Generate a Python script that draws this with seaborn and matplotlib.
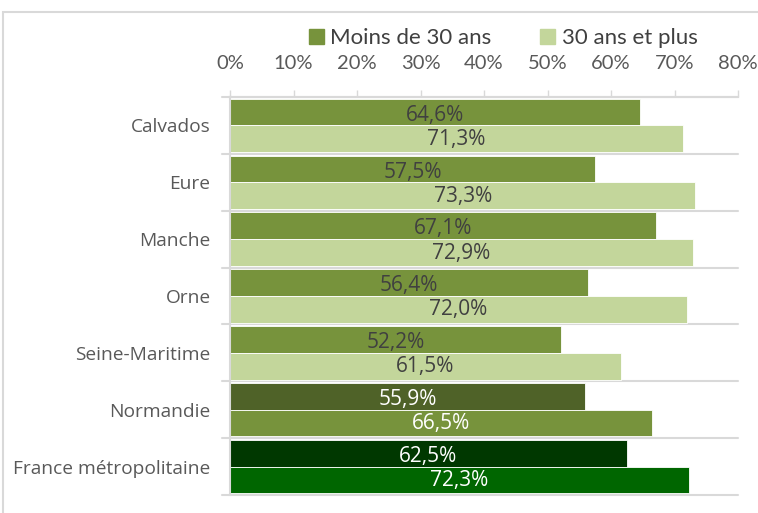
import matplotlib
matplotlib.use("Agg")
import matplotlib.pyplot as plt
import matplotlib.patches as mpatches
import pandas as pd
import seaborn as sns

# Données
territoires = ["Calvados", "Eure", "Manche", "Orne", "Seine-Maritime",
               "Normandie", "France métropolitaine"]
moins_30 = [64.6, 57.5, 67.1, 56.4, 52.2, 55.9, 62.5]
plus_30 = [71.3, 73.3, 72.9, 72.0, 61.5, 66.5, 72.3]
series = ["Moins de 30 ans", "30 ans et plus"]
ticks = [0, 10, 20, 30, 40, 50, 60, 70, 80]

df = pd.DataFrame({
    "territoire": territoires * 2,
    "taux": moins_30 + plus_30,
    "serie": [series[0]] * len(territoires) + [series[1]] * len(territoires),
})

sns.set_style("white")
plt.rcParams["font.family"] = ["Lato", "DejaVu Sans"]
body_font = ["Open Sans", "DejaVu Sans"]

fig = plt.figure(figsize=(7.58, 5.13), dpi=100)
ax = fig.add_axes([230 / 758, 1 - 495 / 513, 508 / 758, 398 / 513])

palette = {series[0]: "#77933C", series[1]: "#C3D69B"}
sns.barplot(data=df, x="taux", y="territoire", hue="serie", orient="h",
            palette=palette, width=0.94, gap=0, ax=ax, legend=False,
            edgecolor="white", linewidth=0.6, saturation=1)

# couleurs spécifiques Normandie / France
special = {
    ("Normandie", 0): "#4F6228", ("Normandie", 1): "#77933C",
    ("France métropolitaine", 0): "#003800", ("France métropolitaine", 1): "#006600",
}
grey = "#404040"
for j, cont in enumerate(ax.containers):
    vals = moins_30 if j == 0 else plus_30
    for i, bar in enumerate(cont):
        key = (territoires[i], j)
        col = grey
        if key in special:
            bar.set_facecolor(special[key])
            col = "white"
        x = bar.get_x() + bar.get_width() / 2
        y = bar.get_y() + bar.get_height() * (0.62 if j == 0 else 0.52)
        ax.text(x, y, f"{vals[i]:.1f}%".replace(".", ","), ha="center",
                va="center", fontsize=15, color=col, family=body_font)

ax.set_xlim(0, 80)
ax.set_ylim(len(territoires) - 0.5, -0.5)
ax.xaxis.tick_top()
ax.set_xticks(ticks)
ax.set_xticklabels([f"{t}%" for t in ticks], fontsize=14.5, color="#595959")
ax.tick_params(axis="x", top=True, length=5, width=1, color="#D9D9D9", pad=13)
ax.tick_params(axis="y", length=0, pad=14)
for lab in ax.get_yticklabels():
    lab.set_family(body_font)
    lab.set_fontsize(13.8)
    lab.set_color("#595959")
ax.set_xlabel("")
ax.set_ylabel("")

for s in ["right", "bottom"]:
    ax.spines[s].set_visible(False)
ax.spines["top"].set_color("#D9D9D9")
ax.spines["left"].set_color("#D9D9D9")
ax.spines["left"].set_linewidth(1.5)
ax.spines["top"].set_linewidth(1.5)

# séparateurs entre catégories
for k in range(len(territoires) + 1):
    ax.plot([-1.3, 80], [k - 0.5, k - 0.5], color="#D9D9D9", lw=1.5,
            clip_on=False, zorder=0.5)

handles = [mpatches.Patch(color=palette[s], label=s) for s in series]
fig.legend(handles=handles, loc="center", bbox_to_anchor=(0.664, 1 - 38 / 513),
           ncol=2, frameon=False, fontsize=16, handlelength=0.65,
           handleheight=0.65, handletextpad=0.3, columnspacing=2.2,
           labelcolor="#404040")

# cadre
fig.patches.append(mpatches.Rectangle((3 / 758, -0.1), 2, 1 - 12 / 513 + 0.1,
                                      transform=fig.transFigure, fill=False,
                                      edgecolor="#D9D9D9", lw=1.5))

fig.savefig("out.png", dpi=100)
